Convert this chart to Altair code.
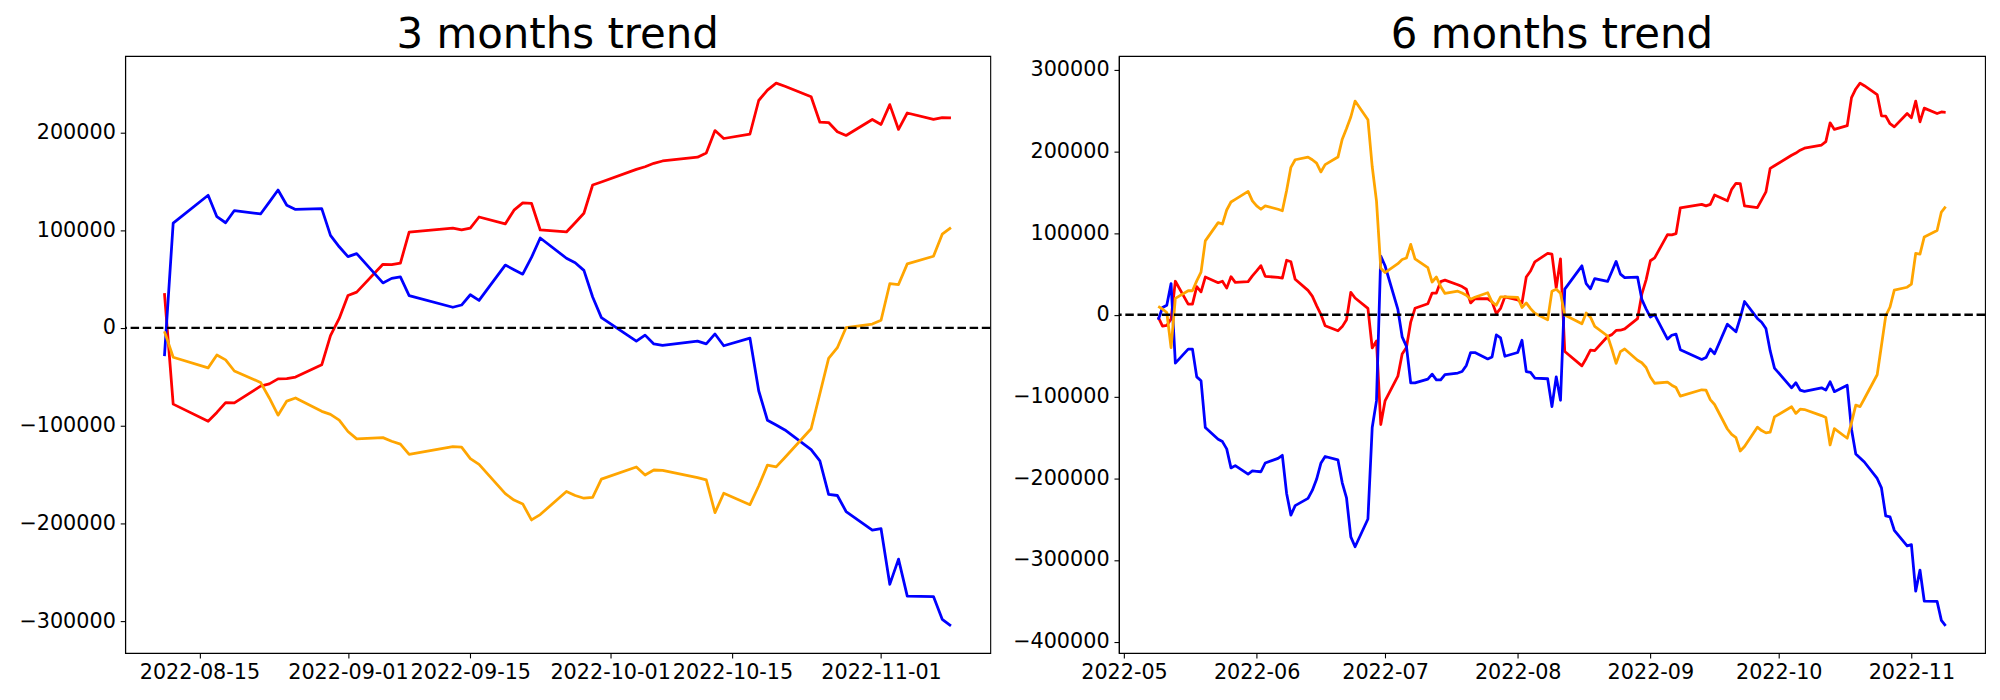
import altair as alt
import pandas as pd

FONT = "DejaVu Sans"

# ---------------- 3 months panel ----------------
dates_3m = [
    "2022-08-11", "2022-08-12", "2022-08-16", "2022-08-17", "2022-08-18", "2022-08-19",
    "2022-08-22", "2022-08-23", "2022-08-24", "2022-08-25", "2022-08-26",
    "2022-08-29", "2022-08-30", "2022-08-31", "2022-09-01", "2022-09-02",
    "2022-09-05", "2022-09-06", "2022-09-07", "2022-09-08",
    "2022-09-13", "2022-09-14", "2022-09-15", "2022-09-16",
    "2022-09-19", "2022-09-20", "2022-09-21", "2022-09-22", "2022-09-23",
    "2022-09-26", "2022-09-27", "2022-09-28", "2022-09-29", "2022-09-30",
    "2022-10-04", "2022-10-05", "2022-10-06", "2022-10-07",
    "2022-10-11", "2022-10-12", "2022-10-13", "2022-10-14",
    "2022-10-17", "2022-10-18", "2022-10-19", "2022-10-20", "2022-10-21",
    "2022-10-24", "2022-10-25", "2022-10-26", "2022-10-27", "2022-10-28",
    "2022-10-31", "2022-11-01", "2022-11-02", "2022-11-03", "2022-11-04",
    "2022-11-07", "2022-11-08", "2022-11-09",
]
red_3m = [
    35500, -78000, -95500, -86500, -76400, -76800,
    -59600, -57300, -52200, -51900, -50300,
    -37800, -7800, 9700, 33100, 36600,
    65100, 64700, 66300, 97900,
    102100, 100200, 102100, 113500,
    106400, 120500, 127900, 127500, 100200,
    98200, 107600, 117300, 146200, 149300,
    162200, 164900, 168400, 170800,
    174700, 178900, 201900, 193800,
    198400, 232700, 243300, 250500, 247300,
    236500, 210500, 210100, 200800, 196900,
    213300, 208200, 228500, 203100, 219900,
    213300, 215200, 214800,
]
blue_3m = [
    -28800, 107200, 135700, 113800, 107600, 120100,
    116600, 128700, 141100, 125500, 121200,
    122000, 94700, 83000, 72900, 76000,
    46000, 50700, 52200, 33100,
    21100, 23400, 33900, 28100,
    64300, 59600, 55000, 72100, 92000,
    71300, 66700, 58900, 31600, 10500,
    -13600, -7400, -16400, -17900,
    -13600, -16400, -6200, -18300,
    -10500, -64300, -94500, -99400, -104400,
    -124500, -136100, -170400, -171500, -187900,
    -207000, -205500, -262400, -236600, -274500,
    -274900, -298200, -304900,
]
orange_3m = [
    -3500, -30000, -40900, -27700, -32700, -44100,
    -55800, -71700, -89300, -74900, -71700,
    -85400, -88500, -94300, -106000, -113600,
    -112300, -116000, -118900, -129400,
    -121600, -122000, -133700, -139600,
    -169600, -176200, -180100, -196500, -191000,
    -167400, -171500, -174300, -173500, -154800,
    -142300, -150500, -145400, -145800,
    -153200, -155600, -189100, -169200,
    -180900, -161800, -140400, -142200, -132600,
    -103200, -67400, -31200, -20300, 400,
    3900, 7800, 45200, 44400, 65500,
    73300, 95900, 102500,
]

# ---------------- 6 months panel ----------------
dates_6m = [
    "2022-05-09", "2022-05-10", "2022-05-11", "2022-05-12", "2022-05-13",
    "2022-05-16", "2022-05-17", "2022-05-18", "2022-05-19", "2022-05-20",
    "2022-05-23", "2022-05-24", "2022-05-25", "2022-05-26", "2022-05-27",
    "2022-05-30", "2022-05-31", "2022-06-01", "2022-06-02", "2022-06-03",
    "2022-06-06", "2022-06-07", "2022-06-08", "2022-06-09", "2022-06-10",
    "2022-06-13", "2022-06-14", "2022-06-15", "2022-06-16", "2022-06-17",
    "2022-06-20", "2022-06-21", "2022-06-22", "2022-06-23", "2022-06-24",
    "2022-06-27", "2022-06-28", "2022-06-29", "2022-06-30", "2022-07-01",
    "2022-07-04", "2022-07-05", "2022-07-06", "2022-07-07", "2022-07-08",
    "2022-07-11", "2022-07-12", "2022-07-13", "2022-07-14", "2022-07-15",
    "2022-07-18", "2022-07-19", "2022-07-20", "2022-07-21", "2022-07-22",
    "2022-07-25", "2022-07-26", "2022-07-27", "2022-07-28", "2022-07-29",
    "2022-08-01", "2022-08-02", "2022-08-03", "2022-08-04", "2022-08-05",
    "2022-08-08", "2022-08-09", "2022-08-10",
    "2022-08-11", "2022-08-12", "2022-08-16", "2022-08-17", "2022-08-18", "2022-08-19",
    "2022-08-22", "2022-08-23", "2022-08-24", "2022-08-25", "2022-08-26",
    "2022-08-29", "2022-08-30", "2022-08-31", "2022-09-01", "2022-09-02",
    "2022-09-05", "2022-09-06", "2022-09-07", "2022-09-08",
    "2022-09-13", "2022-09-14", "2022-09-15", "2022-09-16",
    "2022-09-19", "2022-09-20", "2022-09-21", "2022-09-22", "2022-09-23",
    "2022-09-26", "2022-09-27", "2022-09-28", "2022-09-29", "2022-09-30",
    "2022-10-04", "2022-10-05", "2022-10-06", "2022-10-07",
    "2022-10-11", "2022-10-12", "2022-10-13", "2022-10-14",
    "2022-10-17", "2022-10-18", "2022-10-19", "2022-10-20", "2022-10-21",
    "2022-10-24", "2022-10-25", "2022-10-26", "2022-10-27", "2022-10-28",
    "2022-10-31", "2022-11-01", "2022-11-02", "2022-11-03", "2022-11-04",
    "2022-11-07", "2022-11-08", "2022-11-09",
]
red_6m = [
    -2800, -14000, -13100, -5100, 41000,
    13100, 13100, 34500, 28000, 46200,
    39200, 41000, 32600, 46600, 39600,
    40600, 47500, 53600, 60100, 47000,
    45700, 44800, 66700, 64800, 43400,
    29800, 22800, 11200, 500, -13500,
    -19600, -14500, -6100, 27500, 20500,
    7900, -40600, -32200, -134300, -105400,
    -75100, -48000, -40100, -8900, 7900,
    13500, 26600, 26600, 40600, 42400,
    36800, 34500, 31200, 14500, 19600,
    19600, 15900, 1400, 7900, 21900,
    18200, 14500, 46200, 53600, 64800,
    75100, 74100, 33100,
    68500, -45000, -62500, -53500, -43400, -43800,
    -26600, -24300, -19200, -18900, -17300,
    -4800, 25200, 42700, 66100, 69600,
    98100, 97700, 99300, 130900,
    135100, 133200, 135100, 146500,
    139400, 153500, 160900, 160500, 133200,
    131200, 140600, 150300, 179200, 182300,
    195200, 197900, 201400, 203800,
    207700, 211900, 234900, 226800,
    231400, 265700, 276300, 283500, 280300,
    269500, 243500, 243100, 233800, 229900,
    246300, 241200, 261500, 236100, 252900,
    246300, 248200, 247800,
]
blue_6m = [
    -6100, 8900, 11700, 38200, -59200,
    -42000, -42000, -76000, -80700, -138000,
    -152400, -155200, -164100, -187400, -184600,
    -194900, -191100, -191600, -192100, -181400,
    -175800, -172000, -218600, -245200, -233600,
    -224700, -214900, -201400, -181800, -173400,
    -177600, -205600, -224200, -271800, -283900,
    -249900, -138000, -105400, 71800, 60000,
    6500, -27000, -38700, -83400, -83400,
    -78800, -72700, -79700, -79700, -73200,
    -71300, -69500, -62000, -46200, -46200,
    -54100, -51700, -24700, -28400, -50800,
    -46200, -31200, -69500, -70400, -77400,
    -78300, -112400, -76000,
    -104600, 31400, 59900, 38000, 31800, 44300,
    40800, 52900, 65300, 49700, 45400,
    46200, 18900, 7200, -2900, 200,
    -29800, -25100, -23600, -42700,
    -54700, -52400, -41900, -47700,
    -11500, -16200, -20800, -3700, 16200,
    -4500, -9100, -16900, -44200, -65300,
    -89400, -83200, -92200, -93700,
    -89400, -92200, -82000, -94100,
    -86300, -140100, -170300, -175200, -180200,
    -200300, -211900, -246200, -247300, -263700,
    -282800, -281300, -338200, -312400, -350300,
    -350700, -374000, -380700,
]
orange_6m = [
    10300, 7000, 2800, -40100, 20000,
    29400, 29400, 41500, 52200, 90400,
    112800, 111000, 128200, 138000, 141300,
    151000, 139400, 133300, 129100, 133300,
    129100, 127300, 152000, 180400, 189700,
    193000, 189700, 185500, 174800, 183700,
    193000, 214900, 228000, 242000, 261500,
    238700, 181400, 139400, 56900, 51700,
    62500, 67600, 69500, 86200, 68500,
    57800, 40100, 46200, 34500, 26100,
    28900, 26600, 23800, 19100, 21400,
    27000, 15400, 11700, 21900, 21900,
    21400, 8900, 14500, 7500, 1900,
    -6100, 28900, 31200,
    26300, -200, -11100, 2100, -2900, -14300,
    -26000, -41900, -59500, -45100, -41900,
    -55600, -58700, -64500, -76200, -83800,
    -82500, -86200, -89100, -99600,
    -91800, -92200, -103900, -109800,
    -139800, -146400, -150300, -166700, -161200,
    -137600, -141700, -144500, -143700, -125000,
    -112500, -120700, -115600, -116000,
    -123400, -125800, -159300, -139400,
    -151100, -132000, -110600, -112400, -102800,
    -73400, -37600, -1400, 9500, 30200,
    33700, 37600, 75000, 74200, 95300,
    103100, 125700, 132300,
]

series_names = ["red", "blue", "orange"]
series_colors = ["#ff0000", "#0000ff", "#ffa500"]

ticks_3m = ["2022-08-15", "2022-09-01", "2022-09-15", "2022-10-01", "2022-10-15", "2022-11-01"]
ticks_6m = ["2022-05-01", "2022-06-01", "2022-07-01", "2022-08-01", "2022-09-01", "2022-10-01", "2022-11-01"]
yticks_3m = [-300000, -200000, -100000, 0, 100000, 200000]
yticks_6m = [-400000, -300000, -200000, -100000, 0, 100000, 200000, 300000]

for a, b, c, d in [(dates_3m, red_3m, blue_3m, orange_3m), (dates_6m, red_6m, blue_6m, orange_6m)]:
    assert len(a) == len(b) == len(c) == len(d), (len(a), len(b), len(c), len(d))


def dt(ts):
    ts = pd.Timestamp(ts)
    return alt.DateTime(year=ts.year, month=ts.month, date=ts.day,
                        hours=ts.hour, minutes=ts.minute, seconds=ts.second)


def panel(dates, red, blue, orange, title, xticks, xfmt, yticks, width, height):
    n = len(dates)
    d = pd.to_datetime(dates)
    df = pd.DataFrame({
        "date": list(d) * 3,
        "value": list(red) + list(blue) + list(orange),
        "series": ["red"] * n + ["blue"] * n + ["orange"] * n,
    })
    # matplotlib-like 5% margins
    span = d.max() - d.min()
    xdom = [dt(d.min() - span * 0.05), dt(d.max() + span * 0.05)]
    vmin, vmax = df["value"].min(), df["value"].max()
    vpad = (vmax - vmin) * 0.05
    ydom = [vmin - vpad, vmax + vpad]

    x = alt.X("date:T",
              scale=alt.Scale(domain=xdom, nice=False),
              axis=alt.Axis(values=[dt(t) for t in xticks], format=xfmt, title=None,
                            labelOverlap=False, labelFlush=False, labelAngle=0,
                            grid=False))
    y = alt.Y("value:Q",
              scale=alt.Scale(domain=ydom, nice=False, zero=False),
              axis=alt.Axis(values=yticks, format="d", title=None, grid=False,
                            minExtent=105, maxExtent=105))

    lines = alt.Chart(df).mark_line(strokeWidth=2.78, strokeJoin="round", clip=True).encode(
        x=x, y=y,
        color=alt.Color("series:N",
                        scale=alt.Scale(domain=series_names, range=series_colors),
                        legend=None),
    )
    zero = alt.Chart(pd.DataFrame({"value": [0]})).mark_rule(
        color="black", strokeWidth=2.4, strokeDash=[8.5, 3.7]
    ).encode(y="value:Q")

    return alt.layer(lines, zero).properties(
        width=width, height=height,
        title=alt.TitleParams(text=title, fontSize=42, font=FONT, fontWeight="normal",
                              color="black", anchor="middle", frame="group", offset=-1.5),
    )


left = panel(dates_3m, red_3m, blue_3m, orange_3m, "3 months trend",
             ticks_3m, "%Y-%m-%d", yticks_3m, 868, 599)
right = panel(dates_6m, red_6m, blue_6m, orange_6m, "6 months trend",
              ticks_6m, "%Y-%m", yticks_6m, 869, 599)

chart = alt.hconcat(left, right, spacing=19).properties(
    padding={"left": 9.5, "top": 4, "right": 5, "bottom": 5},
    background="white",
).configure_view(
    stroke="black", strokeWidth=1.1
).configure_axis(
    labelFont=FONT, labelFontSize=20.8, labelColor="black",
    tickColor="black", tickWidth=1.1, tickSize=4.9, labelPadding=4.9,
    domainColor="black", domainWidth=1.1,
).configure_title(font=FONT)

chart.save("out.html", embed_options={"renderer": "svg", "actions": False})
